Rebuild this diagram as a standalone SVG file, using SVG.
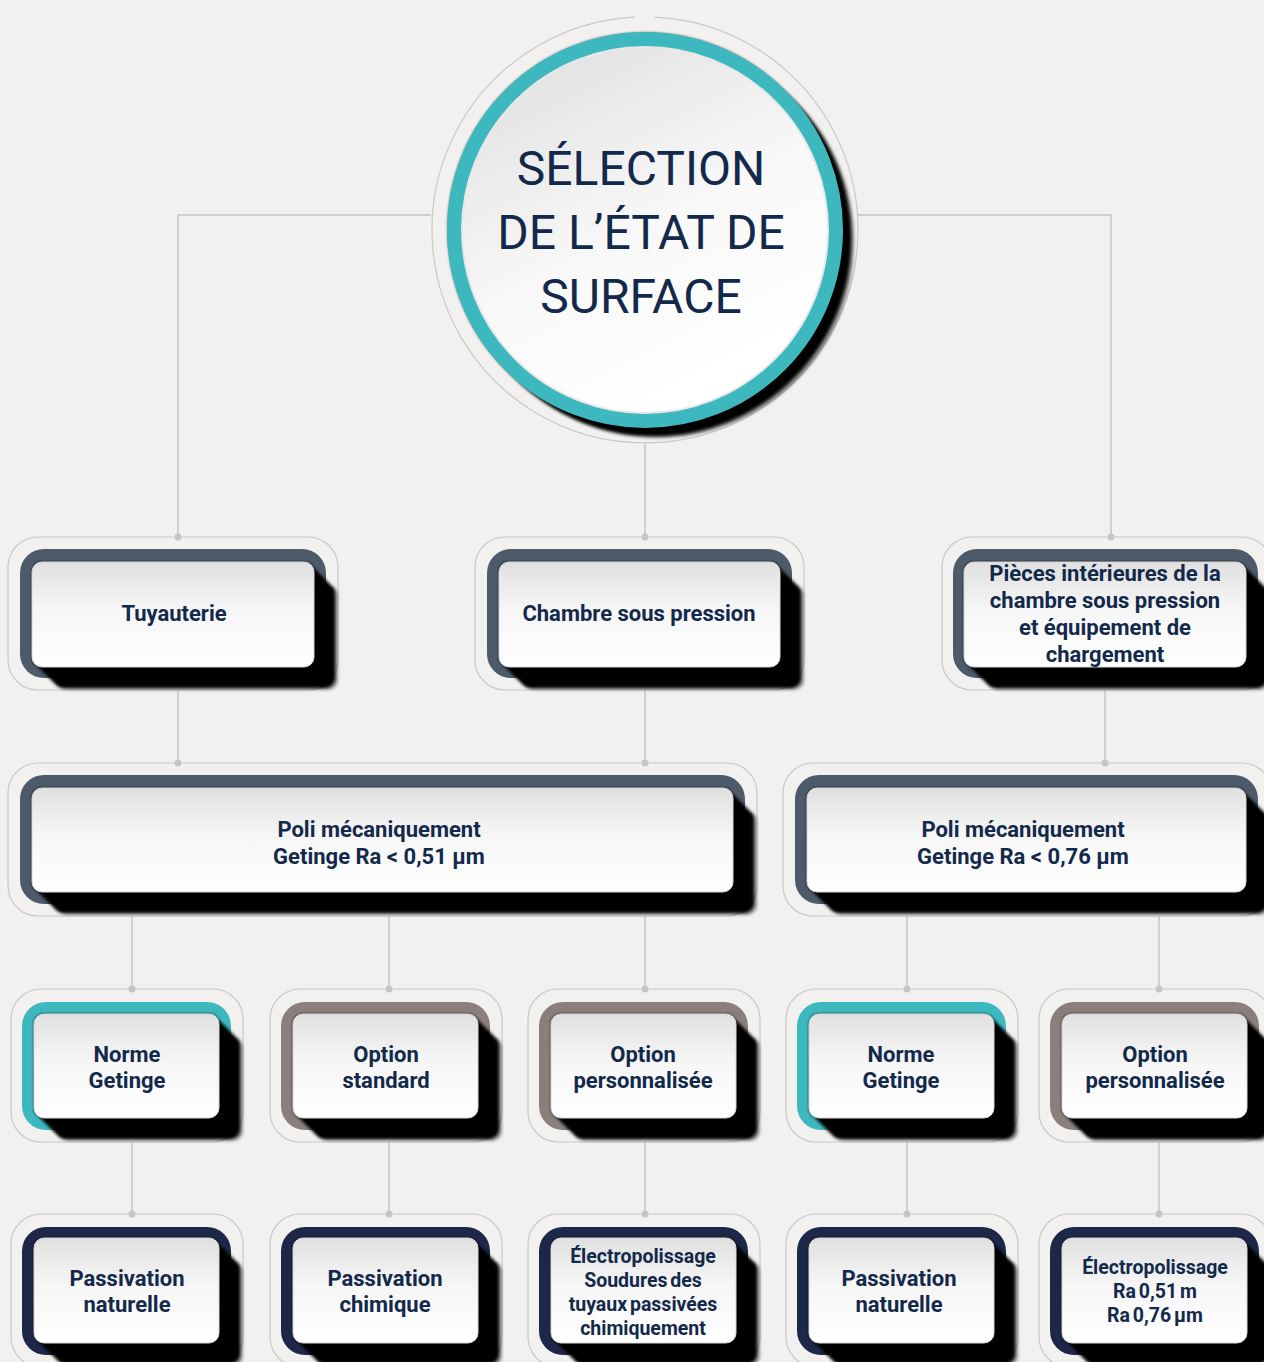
<svg xmlns="http://www.w3.org/2000/svg" width="1264" height="1362" viewBox="0 0 1264 1362">
<defs>
<style>
.outline{fill:none;stroke:#c9c9c9;stroke-width:1.2}
.slate{fill:#4d5a6a}
.teal{fill:#3db8bf}
.taupe{fill:#8a7f7b}
.navy{fill:#1d2848}
.shadow{fill:#000;filter:url(#ls)}
.card{fill:url(#cardg);stroke:#d8d8d8;stroke-width:1}
.lbl{font-family:Roboto,"Liberation Sans",sans-serif;font-weight:700;font-size:22px;fill:#13294b;text-anchor:middle}
.sm{font-size:19.5px;word-spacing:-2px}
.title{font-family:Roboto,"Liberation Sans",sans-serif;font-weight:400;font-size:48px;fill:#13294b;text-anchor:middle}
.dot{fill:#c4c4c4}
</style>
<linearGradient id="cardg" x1="0" y1="0" x2="0" y2="1">
<stop offset="0" stop-color="#e0e0e0"/>
<stop offset="0.45" stop-color="#f6f6f6"/>
<stop offset="1" stop-color="#ffffff"/>
</linearGradient>
<linearGradient id="cg" x1="0.15" y1="0.05" x2="0.6" y2="0.95">
<stop offset="0" stop-color="#e2e2e2"/>
<stop offset="0.55" stop-color="#f8f8f8"/>
<stop offset="1" stop-color="#ffffff"/>
</linearGradient>
<filter id="ls" x="-0.05" y="-0.1" width="1.3" height="1.6">
<feOffset in="SourceAlpha" dx="3" dy="3" result="o1"/>
<feOffset in="SourceAlpha" dx="6" dy="6" result="o2"/>
<feOffset in="SourceAlpha" dx="9" dy="9" result="o3"/>
<feOffset in="SourceAlpha" dx="12" dy="12" result="o4"/>
<feOffset in="SourceAlpha" dx="15" dy="15" result="o5"/>
<feOffset in="SourceAlpha" dx="18" dy="18" result="o6"/>
<feOffset in="SourceAlpha" dx="21" dy="21" result="o7"/>
<feOffset in="SourceAlpha" dx="24" dy="23" result="o8a"/>
<feComponentTransfer in="o8a" result="o8"><feFuncA type="linear" slope="0.4"/></feComponentTransfer>
<feMerge result="m"><feMergeNode in="SourceAlpha"/><feMergeNode in="o1"/><feMergeNode in="o2"/><feMergeNode in="o3"/><feMergeNode in="o4"/><feMergeNode in="o5"/><feMergeNode in="o6"/><feMergeNode in="o7"/><feMergeNode in="o8"/></feMerge>
<feGaussianBlur in="m" stdDeviation="1.6"/>
</filter>
<filter id="lsc" x="-0.1" y="-0.1" width="1.3" height="1.3">
<feOffset in="SourceAlpha" dx="3" dy="3" result="o1"/>
<feOffset in="SourceAlpha" dx="6" dy="6" result="o2"/>
<feOffset in="SourceAlpha" dx="9" dy="9" result="o3"/>
<feOffset in="SourceAlpha" dx="12" dy="11" result="o4a"/>
<feComponentTransfer in="o4a" result="o4"><feFuncA type="linear" slope="0.5"/></feComponentTransfer>
<feMerge result="m"><feMergeNode in="SourceAlpha"/><feMergeNode in="o1"/><feMergeNode in="o2"/><feMergeNode in="o3"/><feMergeNode in="o4"/></feMerge>
<feGaussianBlur in="m" stdDeviation="1.8"/>
</filter>
</defs>

<rect x="0" y="0" width="1264" height="1362" fill="#f2f1ef"/>

<g id="connectors" fill="none" stroke="#c4c4c4" stroke-width="1.5">
<path d="M431 215 H178 V537"/>
<path d="M858 215 H1111 V537"/>
<path d="M645 444 V537"/>
<path d="M178 690 V763"/>
<path d="M645 690 V763"/>
<path d="M1105 690 V763"/>
<path d="M132 916 V989 M389 916 V989 M645 916 V989"/>
<path d="M907 916 V989 M1159 916 V989"/>
<path d="M132 1142 V1214 M389 1142 V1214 M645 1142 V1214 M907 1142 V1214 M1159 1142 V1214"/>
<g stroke="none" class="dot">
<circle cx="178" cy="537" r="3.5"/><circle cx="645" cy="537" r="3.5"/><circle cx="1111" cy="537" r="3.5"/>
<circle cx="178" cy="763" r="3.5"/><circle cx="645" cy="763" r="3.5"/><circle cx="1105" cy="763" r="3.5"/>
<circle cx="132" cy="989" r="3.5"/><circle cx="389" cy="989" r="3.5"/><circle cx="645" cy="989" r="3.5"/><circle cx="907" cy="989" r="3.5"/><circle cx="1159" cy="989" r="3.5"/>
<circle cx="132" cy="1214" r="3.5"/><circle cx="389" cy="1214" r="3.5"/><circle cx="645" cy="1214" r="3.5"/><circle cx="907" cy="1214" r="3.5"/><circle cx="1159" cy="1214" r="3.5"/>
</g>
</g>

<g id="n-root">
<path class="outline" d="M 655 17.2 A 213 213 0 1 1 635 17.2"/>
<circle cx="645" cy="230" r="197" fill="#000" filter="url(#lsc)"/>
<circle cx="645" cy="230" r="190.5" fill="none" stroke="#3db8bf" stroke-width="15"/>
<circle cx="645" cy="230" r="183" fill="url(#cg)" stroke="#e8e8e8" stroke-width="2"/>
<text class="title" x="641" y="185">SÉLECTION</text>
<text class="title" x="641" y="249">DE L’ÉTAT DE</text>
<text class="title" x="641" y="313">SURFACE</text>
</g>

<g id="n-tuyauterie">
<rect class="outline" x="8" y="537" width="330" height="153" rx="30"/>
<rect class="slate" x="20" y="549" width="306" height="129" rx="24"/>
<rect class="shadow" x="32" y="562" width="282" height="105" rx="10"/>
<rect class="card" x="32" y="562" width="282" height="105" rx="10"/>
<text class="lbl" x="174" y="621">Tuyauterie</text>
</g>

<g id="n-chambre">
<rect class="outline" x="475" y="537" width="329" height="153" rx="30"/>
<rect class="slate" x="487" y="549" width="305" height="129" rx="24"/>
<rect class="shadow" x="499" y="562" width="281" height="105" rx="10"/>
<rect class="card" x="499" y="562" width="281" height="105" rx="10"/>
<text class="lbl" x="639" y="621">Chambre sous pression</text>
</g>

<g id="n-pieces">
<rect class="outline" x="942" y="537" width="330" height="153" rx="30"/>
<rect class="slate" x="953" y="549" width="305" height="129" rx="24"/>
<rect class="shadow" x="964" y="562" width="282" height="105" rx="10"/>
<rect class="card" x="964" y="562" width="282" height="105" rx="10"/>
<text class="lbl" x="1105" y="581">Pièces intérieures de la</text>
<text class="lbl" x="1105" y="608">chambre sous pression</text>
<text class="lbl" x="1105" y="635">et équipement de</text>
<text class="lbl" x="1105" y="662">chargement</text>
</g>

<g id="n-poli1">
<rect class="outline" x="8" y="763" width="749" height="153" rx="30"/>
<rect class="slate" x="20" y="775" width="725" height="129" rx="24"/>
<rect class="shadow" x="32" y="788" width="701" height="104" rx="10"/>
<rect class="card" x="32" y="788" width="701" height="104" rx="10"/>
<text class="lbl" x="379" y="837">Poli mécaniquement</text>
<text class="lbl" x="379" y="864">Getinge Ra &lt; 0,51 µm</text>
</g>

<g id="n-poli2">
<rect class="outline" x="783" y="763" width="489" height="153" rx="30"/>
<rect class="slate" x="795" y="775" width="463" height="129" rx="24"/>
<rect class="shadow" x="807" y="788" width="439" height="104" rx="10"/>
<rect class="card" x="807" y="788" width="439" height="104" rx="10"/>
<text class="lbl" x="1023" y="837">Poli mécaniquement</text>
<text class="lbl" x="1023" y="864">Getinge Ra &lt; 0,76 µm</text>
</g>

<g id="n-norme1">
<rect class="outline" x="11" y="989" width="232" height="153" rx="30"/>
<rect class="teal" x="22" y="1002" width="209" height="128" rx="24"/>
<rect class="shadow" x="34" y="1014" width="185" height="104" rx="10"/>
<rect class="card" x="34" y="1014" width="185" height="104" rx="10"/>
<text class="lbl" x="127" y="1062">Norme</text>
<text class="lbl" x="127" y="1088">Getinge</text>
</g>

<g id="n-standard">
<rect class="outline" x="270" y="989" width="232" height="153" rx="30"/>
<rect class="taupe" x="281" y="1002" width="209" height="128" rx="24"/>
<rect class="shadow" x="293" y="1014" width="185" height="104" rx="10"/>
<rect class="card" x="293" y="1014" width="185" height="104" rx="10"/>
<text class="lbl" x="386" y="1062">Option</text>
<text class="lbl" x="386" y="1088">standard</text>
</g>

<g id="n-perso1">
<rect class="outline" x="528" y="989" width="232" height="153" rx="30"/>
<rect class="taupe" x="539" y="1002" width="209" height="128" rx="24"/>
<rect class="shadow" x="551" y="1014" width="185" height="104" rx="10"/>
<rect class="card" x="551" y="1014" width="185" height="104" rx="10"/>
<text class="lbl" x="643" y="1062">Option</text>
<text class="lbl" x="643" y="1088">personnalisée</text>
</g>

<g id="n-norme2">
<rect class="outline" x="786" y="989" width="232" height="153" rx="30"/>
<rect class="teal" x="797" y="1002" width="209" height="128" rx="24"/>
<rect class="shadow" x="809" y="1014" width="185" height="104" rx="10"/>
<rect class="card" x="809" y="1014" width="185" height="104" rx="10"/>
<text class="lbl" x="901" y="1062">Norme</text>
<text class="lbl" x="901" y="1088">Getinge</text>
</g>

<g id="n-perso2">
<rect class="outline" x="1039" y="989" width="232" height="153" rx="30"/>
<rect class="taupe" x="1050" y="1002" width="209" height="128" rx="24"/>
<rect class="shadow" x="1062" y="1014" width="185" height="104" rx="10"/>
<rect class="card" x="1062" y="1014" width="185" height="104" rx="10"/>
<text class="lbl" x="1155" y="1062">Option</text>
<text class="lbl" x="1155" y="1088">personnalisée</text>
</g>

<g id="n-passnat1">
<rect class="outline" x="11" y="1214" width="232" height="153" rx="30"/>
<rect class="navy" x="22" y="1227" width="209" height="128" rx="24"/>
<rect class="shadow" x="34" y="1238" width="185" height="105" rx="10"/>
<rect class="card" x="34" y="1238" width="185" height="105" rx="10"/>
<text class="lbl" x="127" y="1286">Passivation</text>
<text class="lbl" x="127" y="1312">naturelle</text>
</g>

<g id="n-passchim">
<rect class="outline" x="270" y="1214" width="232" height="153" rx="30"/>
<rect class="navy" x="281" y="1227" width="209" height="128" rx="24"/>
<rect class="shadow" x="293" y="1238" width="185" height="105" rx="10"/>
<rect class="card" x="293" y="1238" width="185" height="105" rx="10"/>
<text class="lbl" x="385" y="1286">Passivation</text>
<text class="lbl" x="385" y="1312">chimique</text>
</g>

<g id="n-electro1">
<rect class="outline" x="528" y="1214" width="232" height="153" rx="30"/>
<rect class="navy" x="539" y="1227" width="209" height="128" rx="24"/>
<rect class="shadow" x="551" y="1238" width="185" height="105" rx="10"/>
<rect class="card" x="551" y="1238" width="185" height="105" rx="10"/>
<text class="lbl sm" x="643" y="1263">Électropolissage</text>
<text class="lbl sm" x="643" y="1287">Soudures des</text>
<text class="lbl sm" x="643" y="1311">tuyaux passivées</text>
<text class="lbl sm" x="643" y="1335">chimiquement</text>
</g>

<g id="n-passnat2">
<rect class="outline" x="786" y="1214" width="232" height="153" rx="30"/>
<rect class="navy" x="797" y="1227" width="209" height="128" rx="24"/>
<rect class="shadow" x="809" y="1238" width="185" height="105" rx="10"/>
<rect class="card" x="809" y="1238" width="185" height="105" rx="10"/>
<text class="lbl" x="899" y="1286">Passivation</text>
<text class="lbl" x="899" y="1312">naturelle</text>
</g>

<g id="n-electro2">
<rect class="outline" x="1039" y="1214" width="232" height="153" rx="30"/>
<rect class="navy" x="1050" y="1227" width="209" height="128" rx="24"/>
<rect class="shadow" x="1062" y="1238" width="185" height="105" rx="10"/>
<rect class="card" x="1062" y="1238" width="185" height="105" rx="10"/>
<text class="lbl sm" x="1155" y="1274">Électropolissage</text>
<text class="lbl sm" x="1155" y="1298">Ra 0,51 m</text>
<text class="lbl sm" x="1155" y="1322">Ra 0,76 µm</text>
</g>
</svg>
